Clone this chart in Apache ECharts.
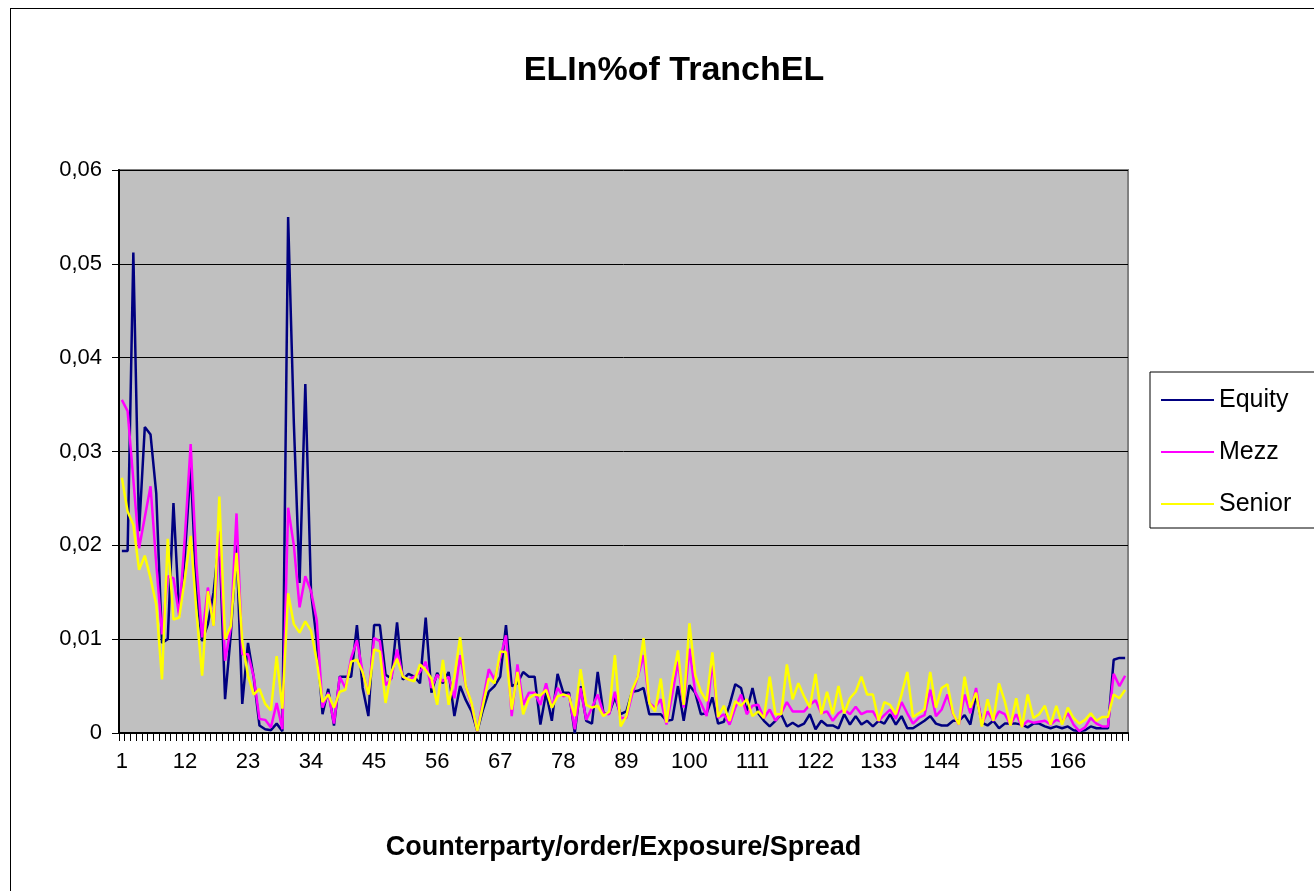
<!DOCTYPE html>
<html>
<head>
<meta charset="utf-8">
<style>
  html, body { margin: 0; padding: 0; background: #ffffff; }
  body { width: 1314px; height: 891px; overflow: hidden; position: relative; }
  #frame { position: absolute; left: 10px; top: 8px; width: 1330px; height: 900px; border: 1px solid #000; box-sizing: border-box; }
  #chart { position: absolute; left: 0; top: 0; width: 1314px; height: 891px; }
</style>
<script src="https://cdn.jsdelivr.net/npm/echarts@6/dist/echarts.min.js"></script>
</head>
<body>
<div id="frame"></div>
<div id="chart"></div>
<script>
// Expected loss of each counterparty as a share of the tranche expected loss
const seriesNames = ['Equity', 'Mezz', 'Senior'];

const equity = [
  0.0194, 0.0194, 0.0512, 0.0215, 0.0326, 0.0318, 0.0255, 0.0096, 0.0100, 0.0245,
  0.0128, 0.0190, 0.0285, 0.0150, 0.0098, 0.0116, 0.0150, 0.0208, 0.0036, 0.0105,
  0.0200, 0.0031, 0.0096, 0.0059, 0.0008, 0.0004, 0.0003, 0.0010, 0.0002, 0.0550,
  0.0330, 0.0160, 0.0372, 0.0150, 0.0098, 0.0020, 0.0047, 0.0008, 0.0060, 0.0060,
  0.0060, 0.0115, 0.0048, 0.0018, 0.0115, 0.0115, 0.0062, 0.0058, 0.0118, 0.0057,
  0.0063, 0.0060, 0.0053, 0.0123, 0.0043, 0.0064, 0.0053, 0.0065, 0.0018, 0.0050,
  0.0035, 0.0023, 0.0002, 0.0025, 0.0044, 0.0050, 0.0060, 0.0115, 0.0050, 0.0053,
  0.0065, 0.0060, 0.0060, 0.0009, 0.0043, 0.0013, 0.0063, 0.0043, 0.0043, 0.0000,
  0.0050, 0.0013, 0.0010, 0.0065, 0.0021, 0.0021, 0.0038, 0.0020, 0.0023, 0.0044,
  0.0045, 0.0048, 0.0020, 0.0020, 0.0020, 0.0013, 0.0014, 0.0050, 0.0013, 0.0051,
  0.0043, 0.0020, 0.0021, 0.0038, 0.0010, 0.0012, 0.0030, 0.0052, 0.0048, 0.0023,
  0.0048, 0.0021, 0.0013, 0.0007, 0.0013, 0.0020, 0.0007, 0.0011, 0.0007, 0.0010,
  0.0020, 0.0004, 0.0013, 0.0008, 0.0008, 0.0005, 0.0020, 0.0009, 0.0018, 0.0009,
  0.0013, 0.0007, 0.0013, 0.0010, 0.0020, 0.0009, 0.0018, 0.0005, 0.0005, 0.0009,
  0.0013, 0.0018, 0.0010, 0.0008, 0.0008, 0.0013, 0.0013, 0.0019, 0.0009, 0.0041,
  0.0011, 0.0008, 0.0013, 0.0005, 0.0010, 0.0010, 0.0010, 0.0009, 0.0006, 0.0010,
  0.0010, 0.0007, 0.0005, 0.0007, 0.0005, 0.0007, 0.0003, 0.0002, 0.0003, 0.0007,
  0.0005, 0.0005, 0.0005, 0.0078, 0.0080, 0.0080
];

const mezz = [
  0.0355, 0.0343, 0.0270, 0.0197, 0.0230, 0.0263, 0.0180, 0.0105, 0.0167, 0.0165,
  0.0125, 0.0210, 0.0308, 0.0180, 0.0102, 0.0155, 0.0114, 0.0215, 0.0077, 0.0112,
  0.0234, 0.0084, 0.0084, 0.0060, 0.0015, 0.0014, 0.0006, 0.0032, 0.0004, 0.0240,
  0.0200, 0.0134, 0.0167, 0.0151, 0.0120, 0.0027, 0.0043, 0.0010, 0.0060, 0.0048,
  0.0080, 0.0099, 0.0065, 0.0041, 0.0101, 0.0098, 0.0051, 0.0058, 0.0089, 0.0060,
  0.0057, 0.0060, 0.0065, 0.0076, 0.0048, 0.0062, 0.0055, 0.0060, 0.0037, 0.0083,
  0.0050, 0.0030, 0.0002, 0.0035, 0.0068, 0.0057, 0.0080, 0.0104, 0.0018, 0.0073,
  0.0030, 0.0043, 0.0043, 0.0030, 0.0053, 0.0027, 0.0048, 0.0039, 0.0041, 0.0004,
  0.0048, 0.0014, 0.0027, 0.0041, 0.0021, 0.0020, 0.0044, 0.0016, 0.0016, 0.0041,
  0.0060, 0.0083, 0.0032, 0.0027, 0.0036, 0.0009, 0.0041, 0.0076, 0.0027, 0.0090,
  0.0044, 0.0032, 0.0018, 0.0076, 0.0016, 0.0020, 0.0009, 0.0027, 0.0041, 0.0020,
  0.0029, 0.0030, 0.0016, 0.0025, 0.0013, 0.0021, 0.0033, 0.0023, 0.0023, 0.0023,
  0.0030, 0.0035, 0.0021, 0.0023, 0.0013, 0.0021, 0.0025, 0.0020, 0.0028, 0.0020,
  0.0023, 0.0023, 0.0013, 0.0019, 0.0025, 0.0015, 0.0033, 0.0021, 0.0010, 0.0016,
  0.0019, 0.0046, 0.0018, 0.0025, 0.0041, 0.0020, 0.0009, 0.0041, 0.0021, 0.0048,
  0.0009, 0.0023, 0.0013, 0.0023, 0.0020, 0.0009, 0.0020, 0.0007, 0.0013, 0.0011,
  0.0012, 0.0013, 0.0009, 0.0014, 0.0012, 0.0021, 0.0009, 0.0002, 0.0006, 0.0016,
  0.0010, 0.0007, 0.0007, 0.0063, 0.0050, 0.0061
];

const senior = [
  0.0272, 0.0236, 0.0222, 0.0174, 0.0189, 0.0165, 0.0137, 0.0057, 0.0207, 0.0121,
  0.0123, 0.0165, 0.0210, 0.0130, 0.0061, 0.0151, 0.0114, 0.0252, 0.0100, 0.0114,
  0.0192, 0.0098, 0.0061, 0.0041, 0.0047, 0.0031, 0.0024, 0.0082, 0.0026, 0.0149,
  0.0116, 0.0107, 0.0119, 0.0109, 0.0077, 0.0033, 0.0041, 0.0027, 0.0044, 0.0046,
  0.0076, 0.0078, 0.0065, 0.0041, 0.0089, 0.0087, 0.0032, 0.0065, 0.0079, 0.0060,
  0.0057, 0.0055, 0.0073, 0.0067, 0.0058, 0.0030, 0.0078, 0.0030, 0.0060, 0.0102,
  0.0050, 0.0032, 0.0002, 0.0030, 0.0058, 0.0053, 0.0087, 0.0086, 0.0025, 0.0065,
  0.0020, 0.0037, 0.0041, 0.0040, 0.0046, 0.0027, 0.0039, 0.0041, 0.0039, 0.0018,
  0.0068, 0.0030, 0.0027, 0.0029, 0.0018, 0.0023, 0.0083, 0.0007, 0.0018, 0.0046,
  0.0060, 0.0101, 0.0032, 0.0023, 0.0058, 0.0011, 0.0055, 0.0088, 0.0030, 0.0117,
  0.0062, 0.0044, 0.0034, 0.0086, 0.0017, 0.0029, 0.0013, 0.0034, 0.0029, 0.0036,
  0.0018, 0.0023, 0.0016, 0.0060, 0.0020, 0.0020, 0.0073, 0.0036, 0.0053, 0.0039,
  0.0027, 0.0063, 0.0020, 0.0044, 0.0020, 0.0050, 0.0021, 0.0037, 0.0044, 0.0060,
  0.0041, 0.0041, 0.0013, 0.0033, 0.0030, 0.0020, 0.0041, 0.0065, 0.0017, 0.0021,
  0.0025, 0.0065, 0.0027, 0.0048, 0.0052, 0.0021, 0.0009, 0.0060, 0.0027, 0.0043,
  0.0007, 0.0036, 0.0013, 0.0053, 0.0034, 0.0008, 0.0037, 0.0006, 0.0041, 0.0016,
  0.0020, 0.0029, 0.0009, 0.0029, 0.0009, 0.0027, 0.0016, 0.0010, 0.0014, 0.0021,
  0.0013, 0.0017, 0.0017, 0.0041, 0.0037, 0.0046
];

// Counterparties are numbered 1..n along the category axis
const categories = equity.map((_, i) => String(i + 1));

const yTicks = { min: 0, max: 0.06, step: 0.01 };
const colors = ['#000080', '#FF00FF', '#FFFF00'];

const FONT = '"Liberation Sans", Arial, sans-serif';

const chart = echarts.init(document.getElementById('chart'), null, { renderer: 'canvas' });

function lineSeries(name, data, color) {
  return {
    name: name,
    type: 'line',
    data: data,
    symbol: 'none',
    showSymbol: false,
    smooth: false,
    lineStyle: { color: color, width: 2.5 },
    itemStyle: { color: color },
    emphasis: { disabled: true },
    animation: false
  };
}

chart.setOption({
  backgroundColor: 'transparent',
  animation: false,
  title: {
    text: 'ELIn%of TranchEL',
    left: 669,
    top: 49,
    textAlign: 'center',
    textStyle: { fontFamily: FONT, fontWeight: 'bold', fontSize: 34, color: '#000' }
  },
  legend: {
    orient: 'vertical',
    left: 1150,
    top: 372,
    data: seriesNames,
    icon: 'rect',
    itemWidth: 53,
    itemHeight: 2,
    itemGap: 26,
    padding: [15, 60, 11, 11],
    backgroundColor: '#ffffff',
    borderColor: '#000000',
    borderWidth: 1,
    borderRadius: 0,
    textStyle: { fontFamily: FONT, fontSize: 25, color: '#000', lineHeight: 26 }
  },
  grid: {
    left: 119,
    top: 170,
    width: 1009,
    height: 563,
    show: true,
    backgroundColor: '#C0C0C0',
    borderColor: '#808080',
    borderWidth: 2
  },
  xAxis: {
    type: 'category',
    data: categories,
    boundaryGap: true,
    name: 'Counterparty/order/Exposure/Spread',
    nameLocation: 'middle',
    nameGap: 101,
    nameTextStyle: { fontFamily: FONT, fontWeight: 'bold', fontSize: 27, color: '#000' },
    axisLine: { show: true, lineStyle: { color: '#000', width: 2 } },
    axisTick: { show: true, interval: 0, length: 8, lineStyle: { color: '#000', width: 1 } },
    axisLabel: { interval: 10, fontFamily: FONT, fontSize: 22, color: '#000', margin: 18 },
    splitLine: { show: false }
  },
  yAxis: {
    type: 'value',
    min: yTicks.min,
    max: yTicks.max,
    interval: yTicks.step,
    axisLine: { show: true, lineStyle: { color: '#000', width: 2 } },
    axisTick: { show: true, length: 7, lineStyle: { color: '#000', width: 1 } },
    axisLabel: {
      fontFamily: FONT, fontSize: 22, color: '#000', margin: 17,
      formatter: function (v) { return v === 0 ? '0' : v.toFixed(2).replace('.', ','); }
    },
    splitLine: { show: true, lineStyle: { color: '#000', width: 1 } }
  },
  series: [
    lineSeries(seriesNames[0], equity, colors[0]),
    lineSeries(seriesNames[1], mezz, colors[1]),
    lineSeries(seriesNames[2], senior, colors[2])
  ]
});
</script>
</body>
</html>
